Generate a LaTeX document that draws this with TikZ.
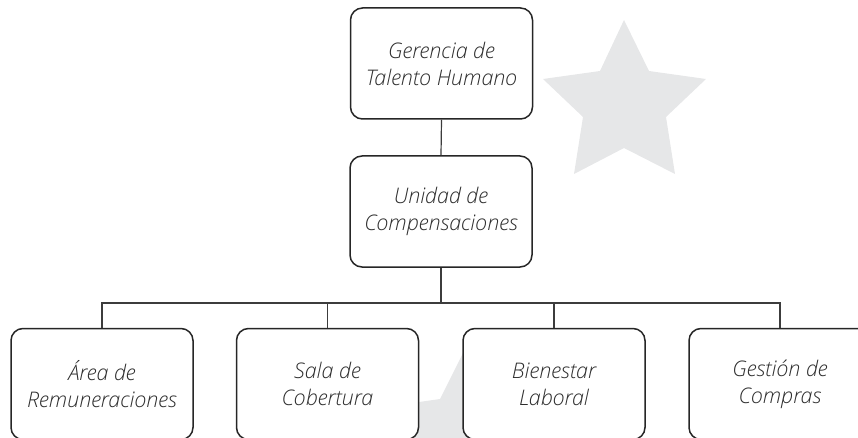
\documentclass[tikz,border=0pt]{standalone}
\usepackage{fontspec}
\IfFontExistsTF{Open Sans Light}{\setmainfont{Open Sans Light}}{\setmainfont{Open Sans}}
\definecolor{starg}{HTML}{E6E7E8}
\definecolor{txt}{HTML}{2E2E2E}
\definecolor{lin}{HTML}{3C3C3C}
\begin{document}
\begin{tikzpicture}[x=1pt,y=-1pt,
  orgbox/.style={draw=black!85, line width=1.5pt, fill=white, rounded corners=12pt,
    minimum width=182pt, minimum height=111pt, inner sep=0pt, align=center,
    text=txt, font=\fontsize{21.5}{27}\selectfont\itshape},
  conn/.style={draw=lin, line width=1.2pt}]
\useasboundingbox (0,0) rectangle (858,438);
\clip (0,0) rectangle (858,438);
% background star
\fill[starg] (624,20) -- (649,71) -- (706,79) -- (666,117) -- (675,174) -- (624,148)
  -- (574,174) -- (583,117) -- (543,79) -- (600,71) -- cycle;
% partial grey shape behind bottom boxes
\fill[starg] (474.5,330) -- (440,399) -- (405,404) -- (405,440) -- (480,440) -- cycle;
% nodes
\node[orgbox] (top) at (441.5,63.5) {Gerencia de\\Talento Humano};
\node[orgbox] (mid) at (441,211.5) {Unidad de\\Compensaciones};
\node[orgbox] (b1) at (102,384) {Área de\\Remuneraciones};
\node[orgbox] (b2) at (327.5,384) {Sala de\\Cobertura};
\node[orgbox] (b3) at (554,384) {Bienestar\\Laboral};
\node[orgbox] (b4) at (780,384) {Gestión de\\Compras};
\coordinate (bus) at (441,303);
% connectors
\draw[conn] (top.south) -- (mid.north);
\draw[conn] (mid.south) -- (bus);
\draw[conn] (b1.north) |- (bus) -| (b4.north);
\draw[conn] (b2.north) -- (b2.north |- bus);
\draw[conn] (b3.north) -- (b3.north |- bus);
\end{tikzpicture}
\end{document}
